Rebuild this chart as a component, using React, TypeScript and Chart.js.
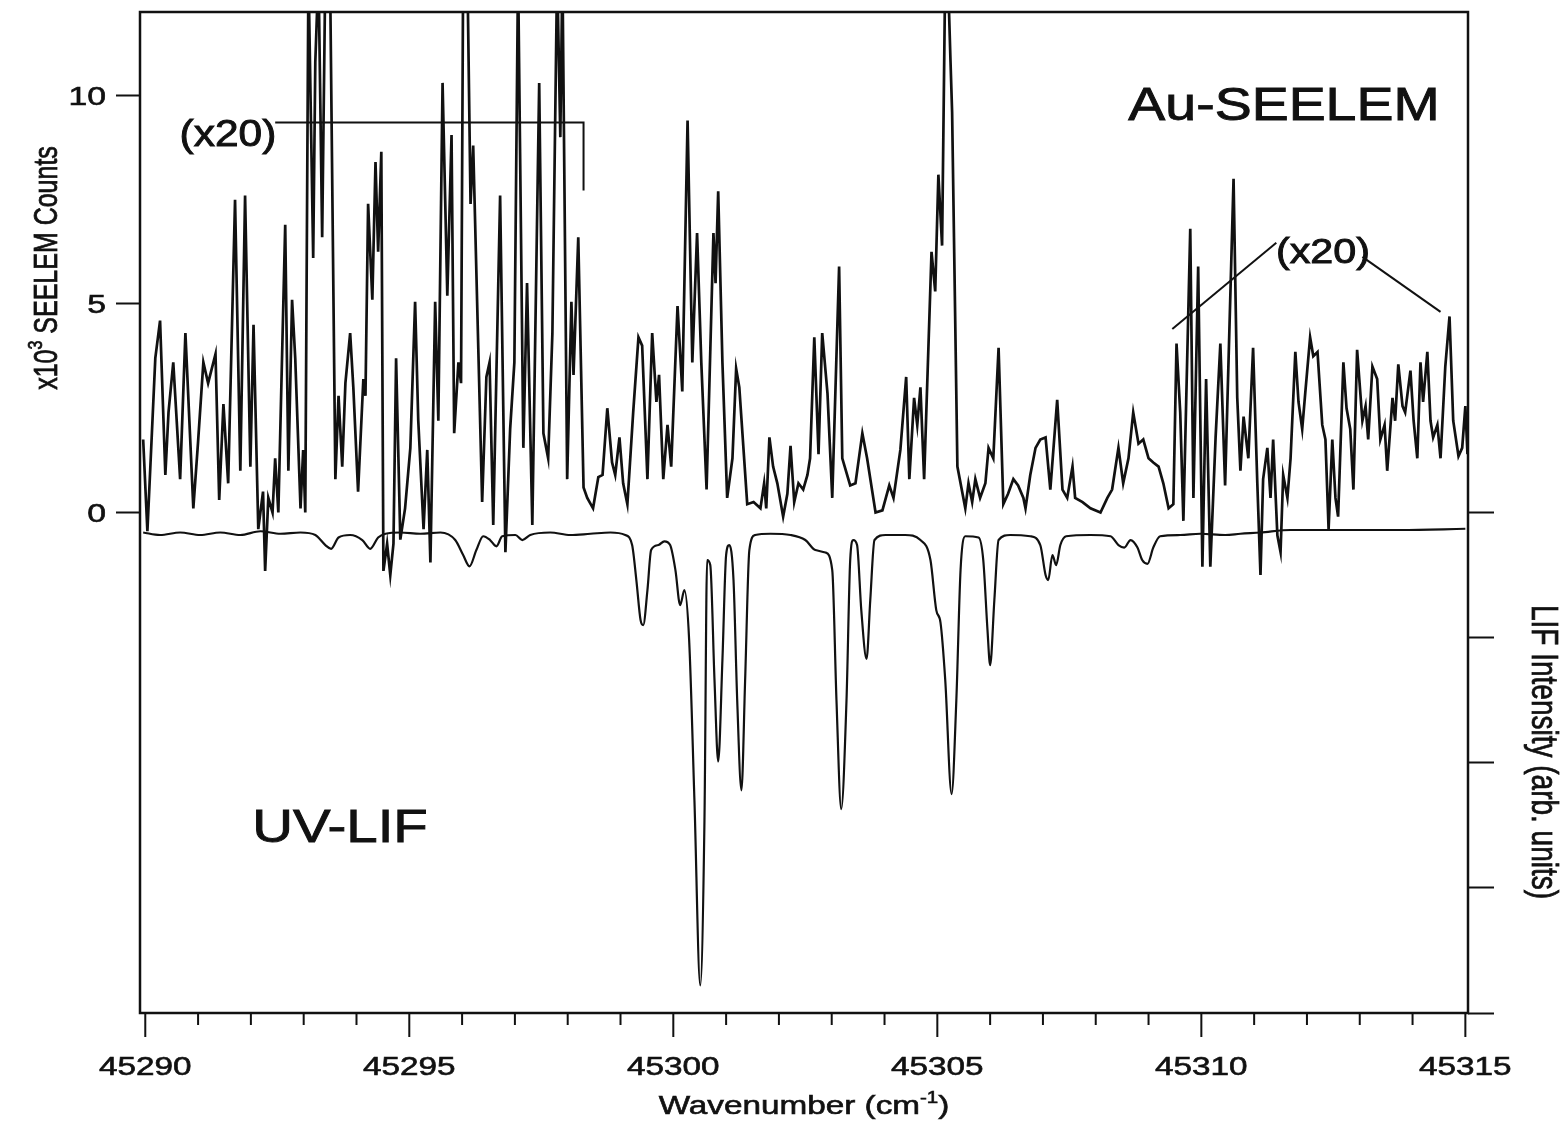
import React, { useEffect, useRef } from 'react';
import { Chart, registerables } from 'chart.js';

Chart.register(...registerables);

// ---------- Au-SEELEM trace (x10^3 counts; left axis) ----------
const seelemX = [
  45289.96, 45290.04, 45290.19, 45290.28, 45290.38, 45290.44, 45290.53, 45290.66, 45290.76, 45290.91,
  45291.00, 45291.10, 45291.19, 45291.33, 45291.40, 45291.48, 45291.57, 45291.70, 45291.80, 45291.89,
  45291.99, 45292.05, 45292.14, 45292.23, 45292.27, 45292.33, 45292.41, 45292.46, 45292.52, 45292.65,
  45292.71, 45292.78, 45292.84, 45292.94, 45292.99, 45293.03, 45293.09, 45293.18, 45293.22, 45293.28,
  45293.35, 45293.41, 45293.50, 45293.60, 45293.66, 45293.73, 45293.79, 45293.88, 45293.94, 45294.03,
  45294.13, 45294.17, 45294.22, 45294.30, 45294.36, 45294.41, 45294.47, 45294.51, 45294.58, 45294.64,
  45294.70, 45294.75, 45294.83, 45294.92, 45295.02, 45295.11, 45295.17, 45295.27, 45295.34, 45295.40,
  45295.49, 45295.55, 45295.63, 45295.72, 45295.80, 45295.85, 45295.93, 45295.98, 45296.02, 45296.10,
  45296.16, 45296.21, 45296.38, 45296.46, 45296.52, 45296.59, 45296.72, 45296.82, 45296.91, 45296.99,
  45297.06, 45297.16, 45297.23, 45297.33, 45297.46, 45297.54, 45297.63, 45297.71, 45297.80, 45297.86,
  45297.90, 45297.99, 45298.07, 45298.11, 45298.20, 45298.30, 45298.37, 45298.48, 45298.58, 45298.66,
  45298.75, 45298.84, 45298.90, 45298.98, 45299.05, 45299.13, 45299.24, 45299.34, 45299.41, 45299.51,
  45299.60, 45299.68, 45299.73, 45299.81, 45299.89, 45299.96, 45300.08, 45300.17, 45300.27, 45300.36,
  45300.45, 45300.53, 45300.63, 45300.76, 45300.80, 45300.85, 45300.93, 45301.02, 45301.12, 45301.19,
  45301.25, 45301.40, 45301.52, 45301.65, 45301.72, 45301.76, 45301.82, 45301.89, 45301.97, 45302.08,
  45302.16, 45302.22, 45302.29, 45302.37, 45302.46, 45302.54, 45302.59, 45302.67, 45302.75, 45302.82,
  45302.92, 45303.01, 45303.14, 45303.20, 45303.35, 45303.45, 45303.58, 45303.67, 45303.83, 45303.96,
  45304.09, 45304.17, 45304.30, 45304.41, 45304.47, 45304.56, 45304.62, 45304.68, 45304.75, 45304.89,
  45304.96, 45305.02, 45305.09, 45305.15, 45305.21, 45305.25, 45305.28, 45305.38, 45305.53, 45305.59,
  45305.66, 45305.72, 45305.81, 45305.91, 45305.97, 45306.06, 45306.16, 45306.25, 45306.34, 45306.44,
  45306.53, 45306.63, 45306.67, 45306.76, 45306.86, 45306.95, 45307.05, 45307.14, 45307.27, 45307.37,
  45307.46, 45307.56, 45307.61, 45307.75, 45307.90, 45308.09, 45308.22, 45308.31, 45308.43, 45308.52,
  45308.62, 45308.71, 45308.81, 45308.90, 45309.00, 45309.09, 45309.19, 45309.28, 45309.38, 45309.47,
  45309.53, 45309.60, 45309.66, 45309.79, 45309.85, 45309.94, 45310.02, 45310.09, 45310.17, 45310.27,
  45310.36, 45310.45, 45310.61, 45310.68, 45310.74, 45310.80, 45310.89, 45310.98, 45311.06, 45311.12,
  45311.17, 45311.25, 45311.31, 45311.36, 45311.44, 45311.50, 45311.55, 45311.63, 45311.69, 45311.78,
  45311.84, 45311.91, 45311.97, 45312.06, 45312.12, 45312.20, 45312.29, 45312.35, 45312.41, 45312.48,
  45312.54, 45312.59, 45312.69, 45312.75, 45312.82, 45312.88, 45312.95, 45313.05, 45313.11, 45313.16,
  45313.24, 45313.33, 45313.39, 45313.47, 45313.52, 45313.62, 45313.67, 45313.73, 45313.81, 45313.86,
  45313.96, 45314.02, 45314.09, 45314.15, 45314.20, 45314.28, 45314.34, 45314.39, 45314.47, 45314.53,
  45314.62, 45314.70, 45314.77, 45314.87, 45314.94, 45315.00, 45315.04,
];
const seelemY = [
  1.75, -0.45, 3.7, 4.6, 0.9, 2.4, 3.6, 0.8, 4.3, 0.1,
  1.7, 3.6, 3.1, 3.8, 0.3, 2.6, 0.7, 7.5, 1.0, 7.6,
  1.1, 4.5, -0.4, 0.5, -1.4, 0.35, 0.0, 1.3, 0.0, 6.9,
  1.0, 5.1, 3.7, 0.1, 1.5, 0.0, 13, 6.1, 10.8, 13,
  6.6, 13, 12.8, 0.8, 2.8, 1.1, 3.1, 4.3, 3.0, 0.5,
  3.2, 2.8, 7.4, 5.1, 8.4, 6.25, 8.65, -1.4, -0.75, -1.5,
  -0.75, 3.7, -0.65, 0.1, 1.55, 5.05, 2.2, -0.4, 1.5, -1.2,
  5.05, 2.2, 10.3, 5.2, 9.05, 1.9, 3.6, 3.1, 13, 13,
  7.4, 8.8, 0.25, 3.25, 3.6, -0.3, 7.6, -0.95, 2.0, 3.6,
  13, 1.55, 5.5, -0.3, 10.3, 1.9, 1.3, 4.3, 13, 9.0,
  13, 0.8, 5.05, 3.3, 6.6, 0.6, 0.35, 0.1, 0.85, 0.9,
  2.5, 1.2, 0.9, 1.8, 0.7, 0.2, 2.4, 4.2, 4.0, 0.8,
  4.3, 2.65, 3.3, 0.8, 2.1, 1.1, 4.95, 2.9, 9.4, 3.6,
  6.7, 3.6, 0.55, 6.7, 5.5, 7.7, 3.6, 0.35, 1.3, 3.45,
  3.0, 0.2, 0.25, 0.1, 0.7, 0.1, 1.8, 1.1, 0.7, -0.1,
  0.45, 1.6, 0.25, 0.7, 0.55, 0.9, 1.3, 4.2, 1.4, 4.3,
  2.85, 0.35, 5.9, 1.3, 0.65, 0.7, 1.9, 1.3, 0.0, 0.05,
  0.65, 0.35, 1.5, 3.25, 0.8, 2.75, 2.1, 3.0, 0.8, 6.25,
  5.3, 8.1, 6.4, 13, 12.5, 10.8, 9.6, 1.1, 0.1, 0.7,
  0.25, 0.8, 0.35, 0.7, 1.55, 1.3, 3.95, 0.2, 0.45, 0.8,
  0.65, 0.35, 0.1, 0.9, 1.55, 1.75, 1.8, 0.55, 2.7, 0.55,
  0.35, 1.1, 0.35, 0.25, 0.1, 0.0, 0.35, 0.55, 1.55, 0.7,
  1.3, 2.4, 1.65, 1.75, 1.3, 1.2, 1.1, 0.7, 0.1, 0.2,
  4.05, 2.4, -0.2, 6.8, 0.35, 5.9, -1.3, 3.2, -1.3, 1.8,
  4.05, 0.65, 8.0, 2.75, 1.0, 2.3, 1.3, 3.95, 0.7, -1.5,
  0.8, 1.55, 0.35, 1.75, -0.55, -0.95, 0.9, 0.35, 1.3, 3.85,
  2.65, 2.0, 2.9, 4.2, 3.75, 3.85, 2.1, 1.75, -0.4, 1.75,
  0.35, -0.1, 3.6, 2.5, 2.0, 0.55, 3.9, 2.2, 2.55, 1.75,
  3.5, 3.2, 1.75, 2.1, 1.0, 2.75, 2.2, 3.55, 2.55, 2.4,
  3.4, 2.2, 1.3, 3.6, 2.65, 3.85, 2.2, 1.8, 2.1, 1.3,
  3.5, 4.7, 2.2, 1.35, 1.55, 2.55, 1.4,
];

// ---------- UV-LIF trace (arb. units, negative-going; right axis) ----------
const lifX = [
  45289.96, 45290.28, 45290.66, 45291.04, 45291.42, 45291.80, 45292.18, 45292.56, 45292.94, 45293.22,
  45293.41, 45293.52, 45293.66, 45293.88, 45294.11, 45294.26, 45294.41, 45294.55, 45294.83, 45295.21,
  45295.59, 45295.87, 45296.02, 45296.14, 45296.27, 45296.40, 45296.53, 45296.65, 45296.76, 45297.01,
  45297.14, 45297.29, 45297.67, 45298.05, 45298.43, 45298.81, 45299.09, 45299.22, 45299.30, 45299.38,
  45299.43, 45299.51, 45299.58, 45299.72, 45299.83, 45299.94, 45300.04, 45300.13, 45300.21, 45300.30,
  45300.40, 45300.51, 45300.59, 45300.64, 45300.70, 45300.78, 45300.85, 45300.93, 45301.00, 45301.06,
  45301.14, 45301.21, 45301.29, 45301.36, 45301.44, 45301.55, 45301.84, 45302.22, 45302.50, 45302.69,
  45302.88, 45303.01, 45303.09, 45303.18, 45303.28, 45303.35, 45303.41, 45303.48, 45303.56, 45303.66,
  45303.73, 45303.81, 45304.02, 45304.39, 45304.68, 45304.87, 45304.98, 45305.06, 45305.15, 45305.27,
  45305.36, 45305.44, 45305.53, 45305.78, 45305.87, 45305.95, 45306.00, 45306.08, 45306.16, 45306.38,
  45306.76, 45306.95, 45307.05, 45307.10, 45307.18, 45307.25, 45307.33, 45307.44, 45307.90, 45308.28,
  45308.43, 45308.54, 45308.66, 45308.79, 45308.88, 45308.98, 45309.09, 45309.22, 45309.60, 45309.98,
  45310.45, 45310.74, 45311.12, 45311.69, 45312.44, 45313.77, 45315.00,
];
const lifY = [
  -0.16, -0.18, -0.16, -0.18, -0.16, -0.18, -0.15, -0.17, -0.16, -0.18,
  -0.26, -0.29, -0.20, -0.18, -0.22, -0.29, -0.20, -0.17, -0.16, -0.17,
  -0.16, -0.22, -0.34, -0.43, -0.30, -0.19, -0.22, -0.27, -0.19, -0.18,
  -0.22, -0.18, -0.16, -0.18, -0.17, -0.16, -0.18, -0.26, -0.54, -0.86,
  -0.90, -0.62, -0.30, -0.26, -0.23, -0.26, -0.46, -0.74, -0.62, -1.02,
  -2.30, -3.78, -2.46, -0.38, -0.42, -1.34, -1.99, -1.18, -0.34, -0.26,
  -0.54, -1.50, -2.22, -1.34, -0.30, -0.18, -0.17, -0.18, -0.22, -0.30,
  -0.32, -0.46, -1.50, -2.37, -1.50, -0.38, -0.22, -0.26, -0.78, -1.17,
  -0.70, -0.22, -0.18, -0.18, -0.22, -0.38, -0.78, -0.88, -1.34, -2.25,
  -1.50, -0.46, -0.19, -0.20, -0.38, -0.94, -1.22, -0.70, -0.22, -0.18,
  -0.19, -0.26, -0.50, -0.54, -0.34, -0.42, -0.26, -0.19, -0.18, -0.19,
  -0.26, -0.28, -0.22, -0.28, -0.38, -0.41, -0.28, -0.19, -0.18, -0.17,
  -0.18, -0.17, -0.16, -0.14, -0.14, -0.14, -0.13,
];

// ---------- (x20) annotation markers (left-axis units) ----------
const bracketLeftX = [45292.46, 45298.30, 45298.30];
const bracketLeftY = [9.35, 9.35, 7.72];
const pointerAX = [45309.45, 45311.42];
const pointerAY = [4.4, 6.47];
const pointerBX = [45313.05, 45314.53];
const pointerBY = [6.13, 4.81];

// ---------- ticks ----------
const xMajorTicks = [45290, 45295, 45300, 45305, 45310, 45315];
const xMajorLabels = ['45290', '45295', '45300', '45305', '45310', '45315'];
const xMinorTicks = [
  45291, 45292, 45293, 45294, 45296, 45297, 45298, 45299, 45301, 45302, 45303, 45304,
  45306, 45307, 45308, 45309, 45311, 45312, 45313, 45314,
];
const leftTicks = [0, 5, 10];
const leftTickLabels = ['0', '5', '10'];
const rightTicks = [-4, -3, -2, -1, 0];

const FAMILY = '"Liberation Sans", Arial, Helvetica, sans-serif';
const INK = '#111111';

type Part = { t: string; sup?: boolean };

function drawRich(
  ctx: CanvasRenderingContext2D,
  parts: Part[],
  cx: number,
  cy: number,
  size: number,
  sx: number,
  rot: number,
  align: 'center' | 'right' = 'center'
) {
  ctx.save();
  ctx.translate(cx, cy);
  ctx.scale(sx, 1);
  if (rot) ctx.rotate(rot);
  const big = `${size}px ${FAMILY}`;
  const small = `${Math.round(size * 0.62)}px ${FAMILY}`;
  let total = 0;
  const widths = parts.map((p) => {
    ctx.font = p.sup ? small : big;
    const w = ctx.measureText(p.t).width;
    total += w;
    return w;
  });
  let x = align === 'center' ? -total / 2 : -total;
  ctx.fillStyle = INK;
  ctx.strokeStyle = INK;
  ctx.lineWidth = size > 30 ? 0.9 : 0.6;
  ctx.textAlign = 'left';
  ctx.textBaseline = 'alphabetic';
  parts.forEach((p, i) => {
    ctx.font = p.sup ? small : big;
    const y = p.sup ? -size * 0.08 : size * 0.36;
    ctx.fillText(p.t, x, y);
    ctx.strokeText(p.t, x, y);
    x += widths[i];
  });
  ctx.restore();
}

const decorPlugin = {
  id: 'decor',
  afterDraw(chart: any) {
    const { ctx, chartArea, scales } = chart;
    const { left, right, top, bottom } = chartArea;
    const xs = scales.x;
    const ys = scales.y;
    ctx.save();
    // frame
    ctx.strokeStyle = INK;
    ctx.lineWidth = 2.5;
    ctx.strokeRect(left, top, right - left, bottom - top);
    // x ticks (major every 5, minor every 1)
    ctx.lineWidth = 2;
    ctx.beginPath();
    xMajorTicks.forEach((v) => {
      const px = xs.getPixelForValue(v);
      ctx.moveTo(px, bottom);
      ctx.lineTo(px, bottom + 24);
    });
    xMinorTicks.forEach((v) => {
      const px = xs.getPixelForValue(v);
      ctx.moveTo(px, bottom);
      ctx.lineTo(px, bottom + 12);
    });
    ctx.stroke();
    ctx.restore();

    // x tick labels
    xMajorTicks.forEach((v, i) => {
      drawRich(ctx, [{ t: xMajorLabels[i] }], xs.getPixelForValue(v), bottom + 53, 26, 1.28, 0);
    });
    // x title
    drawRich(
      ctx,
      [{ t: 'Wavenumber (cm' }, { t: '-1', sup: true }, { t: ')' }],
      (left + right) / 2,
      bottom + 92,
      26,
      1.28,
      0
    );
    // left tick labels
    leftTicks.forEach((v, i) => {
      drawRich(ctx, [{ t: leftTickLabels[i] }], 106, ys.getPixelForValue(v), 26, 1.3, 0, 'right');
    });
    // left title
    drawRich(
      ctx,
      [{ t: 'x10' }, { t: '3', sup: true }, { t: ' SEELEM Counts' }],
      45,
      268,
      25,
      1.3,
      -Math.PI / 2
    );
    // right title
    drawRich(ctx, [{ t: 'LIF Intensity (arb. units)' }], 1545, 752, 28, 1.3, Math.PI / 2);
    // annotations
    drawRich(ctx, [{ t: 'Au-SEELEM' }], 1284, 103, 47, 1.18, 0);
    drawRich(ctx, [{ t: 'UV-LIF' }], 340, 825, 47, 1.2, 0);
    drawRich(ctx, [{ t: '(x20)' }], 228, 133, 36, 1.18, 0);
    drawRich(ctx, [{ t: '(x20)' }], 1323, 250, 35, 1.18, 0);
  },
};

function pts(xs: number[], ys: number[]) {
  return xs.map((x, i) => ({ x, y: ys[i] }));
}

export default function App() {
  const ref = useRef<HTMLCanvasElement | null>(null);

  useEffect(() => {
    if (!ref.current) return;
    const lineBase = { pointRadius: 0, borderColor: INK, fill: false, tension: 0 };
    const chart = new Chart(ref.current, {
      type: 'line',
      data: {
        datasets: [
          { ...lineBase, label: 'Au-SEELEM', data: pts(seelemX, seelemY), yAxisID: 'y', borderWidth: 2.7 },
          {
            ...lineBase,
            label: 'UV-LIF',
            data: pts(lifX, lifY),
            yAxisID: 'y2',
            borderWidth: 2.2,
            cubicInterpolationMode: 'monotone',
          },
          { ...lineBase, label: 'x20 left', data: pts(bracketLeftX, bracketLeftY), yAxisID: 'y', borderWidth: 2 },
          { ...lineBase, label: 'x20 a', data: pts(pointerAX, pointerAY), yAxisID: 'y', borderWidth: 2 },
          { ...lineBase, label: 'x20 b', data: pts(pointerBX, pointerBY), yAxisID: 'y', borderWidth: 2 },
        ] as any,
      },
      options: {
        animation: false,
        responsive: false,
        maintainAspectRatio: false,
        devicePixelRatio: 1,
        layout: { padding: { top: 12, left: 0, right: 0, bottom: 0 } },
        plugins: { legend: { display: false }, tooltip: { enabled: false } },
        scales: {
          x: {
            type: 'linear',
            min: 45289.9,
            max: 45315.05,
            afterBuildTicks: (s: any) => {
              s.ticks = xMajorTicks.map((v) => ({ value: v }));
            },
            afterFit: (s: any) => {
              s.height = 109;
            },
            ticks: { display: false },
            grid: { display: false },
            border: { display: false },
          },
          y: {
            type: 'linear',
            position: 'left',
            min: -12,
            max: 12,
            afterBuildTicks: (s: any) => {
              s.ticks = leftTicks.map((v) => ({ value: v }));
            },
            afterFit: (s: any) => {
              s.width = 140;
            },
            ticks: { display: false },
            grid: {
              display: true,
              drawOnChartArea: false,
              drawTicks: true,
              tickLength: 24,
              tickWidth: 2,
              tickColor: INK,
            },
            border: { display: false },
          },
          y2: {
            type: 'linear',
            position: 'right',
            min: -4,
            max: 4,
            afterBuildTicks: (s: any) => {
              s.ticks = rightTicks.map((v) => ({ value: v }));
            },
            afterFit: (s: any) => {
              s.width = 96;
            },
            ticks: { display: false },
            grid: {
              display: true,
              drawOnChartArea: false,
              drawTicks: true,
              tickLength: 26,
              tickWidth: 2,
              tickColor: INK,
            },
            border: { display: false },
          },
        },
      } as any,
      plugins: [decorPlugin],
    });
    return () => chart.destroy();
  }, []);

  return (
    <div style={{ position: 'absolute', left: 0, top: 0, width: 1564, height: 1122, background: '#fff' }}>
      <canvas ref={ref} width={1564} height={1122} style={{ display: 'block' }} />
    </div>
  );
}
